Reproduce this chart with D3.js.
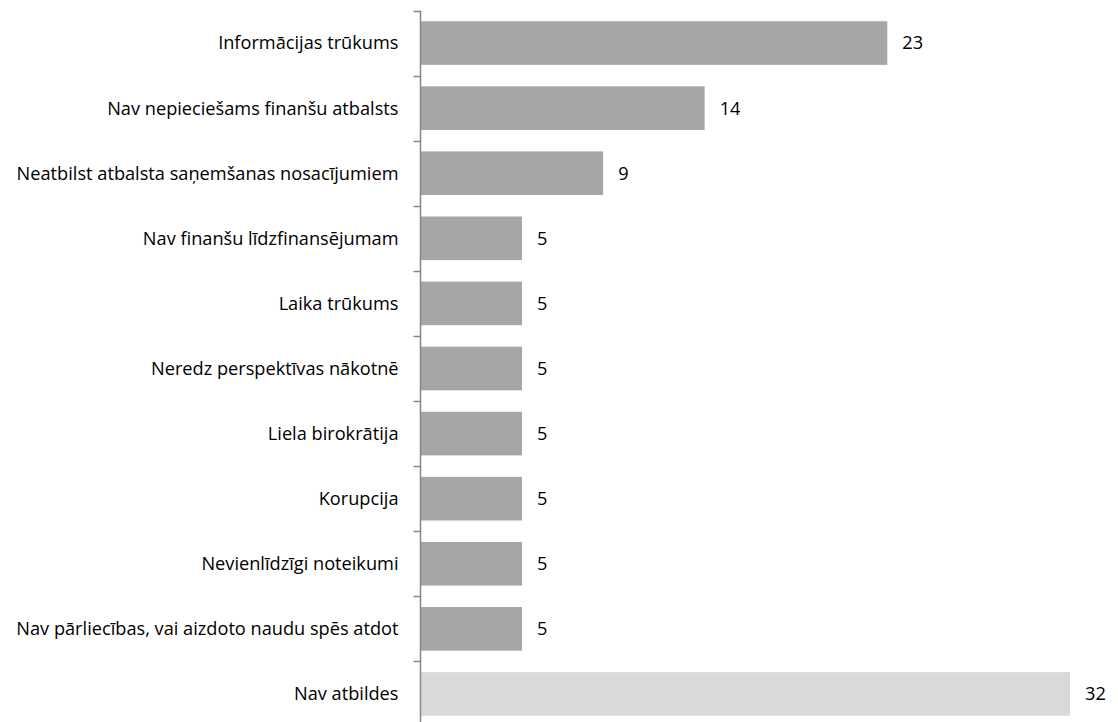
<!DOCTYPE html>
<html>
<head>
<meta charset="utf-8">
<script src="https://cdn.jsdelivr.net/npm/d3@7"></script>
<style>
  html, body { margin: 0; padding: 0; background: #fff; }
  svg text { font-family: "Open Sans", "Noto Sans", sans-serif; fill: #000; }
</style>
</head>
<body>
<svg id="chart" width="1118" height="722"></svg>
<script>
// Survey responses: reasons for not applying for financial support (%)
const categories = [
  "Informācijas trūkums",
  "Nav nepieciešams finanšu atbalsts",
  "Neatbilst atbalsta saņemšanas nosacījumiem",
  "Nav finanšu līdzfinansējumam",
  "Laika trūkums",
  "Neredz perspektīvas nākotnē",
  "Liela birokrātija",
  "Korupcija",
  "Nevienlīdzīgi noteikumi",
  "Nav pārliecības, vai aizdoto naudu spēs atdot",
  "Nav atbildes"
];
const values = [23, 14, 9, 5, 5, 5, 5, 5, 5, 5, 32];
// the "no answer" row is shown in a lighter shade
const highlight = [false, false, false, false, false, false, false, false, false, false, true];

const svg = d3.select("#chart");
const axisX = 420.5;

const x = d3.scaleLinear()
  .domain([0, 32])
  .range([axisX, 1070]);

const y = d3.scaleBand()
  .domain(categories)
  .range([10.5, 726.5])
  .paddingInner(0.33)
  .paddingOuter(0.165);

const rows = categories.map((c, i) => ({ c, v: values[i], h: highlight[i] }));

svg.append("g")
  .selectAll("rect")
  .data(rows)
  .join("rect")
  .attr("x", x(0))
  .attr("y", d => y(d.c))
  .attr("width", d => x(d.v) - x(0))
  .attr("height", y.bandwidth())
  .attr("fill", d => d.h ? "#d9d9d9" : "#a6a6a6");

// category axis with ticks between bands
const axisG = svg.append("g").attr("transform", `translate(${axisX},0)`);
axisG.append("line")
  .attr("x1", 0).attr("x2", 0)
  .attr("y1", 10.5).attr("y2", 726.5)
  .attr("stroke", "#868686").attr("stroke-width", 1.5);

const tickYs = categories.map(c => y(c) - y.step() * y.paddingInner() / 2);
tickYs.push(726.5);
axisG.selectAll("line.tick")
  .data(tickYs)
  .join("line")
  .attr("class", "tick")
  .attr("x1", -7).attr("x2", 0)
  .attr("y1", d => Math.round(d) + 0.5).attr("y2", d => Math.round(d) + 0.5)
  .attr("stroke", "#868686").attr("stroke-width", 1.5);

axisG.selectAll("text")
  .data(rows)
  .join("text")
  .attr("x", -22)
  .attr("y", d => y(d.c) + y.bandwidth() / 2)
  .attr("dy", "0.35em")
  .attr("text-anchor", "end")
  .style("font-size", "18.2px")
  .text(d => d.c);

svg.append("g")
  .selectAll("text")
  .data(rows)
  .join("text")
  .attr("x", d => x(d.v) + 15)
  .attr("y", d => y(d.c) + y.bandwidth() / 2)
  .attr("dy", "0.35em")
  .style("font-size", "18.2px")
  .text(d => d.v);
</script>
</body>
</html>
